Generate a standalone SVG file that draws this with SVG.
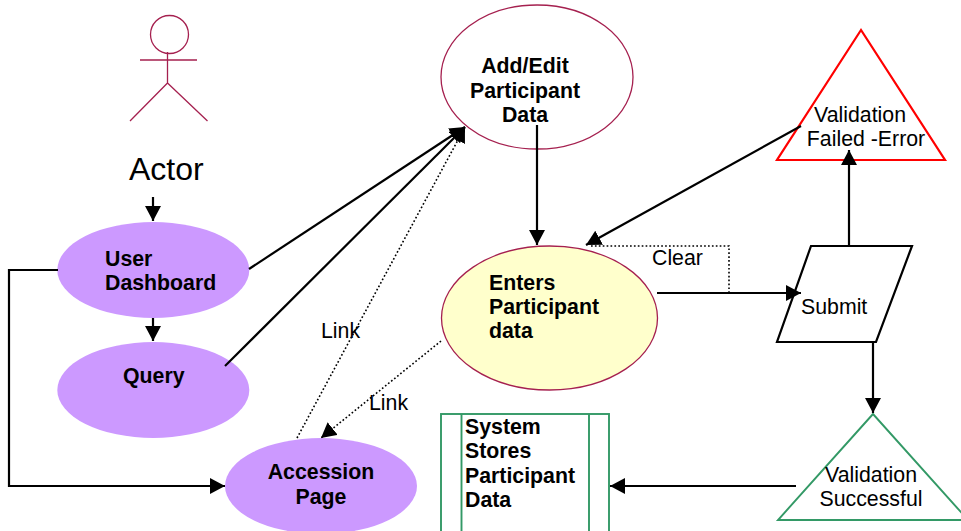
<svg xmlns="http://www.w3.org/2000/svg" width="961" height="531" viewBox="0 0 961 531">
<style>
text{font-family:"Liberation Sans",Arial,sans-serif;font-size:21.3px;fill:#000}
.b{font-weight:bold}
.p{fill:#cc99ff;stroke:none}
.m{fill:none;stroke:#a5204f;stroke-width:1.3}
.c{fill:none;stroke:#000;stroke-width:2.2}
.d{fill:none;stroke:#000;stroke-width:1.6;stroke-dasharray:1.7 2.2}
.g{fill:#fff;stroke:#339966;stroke-width:1.9}
</style>
<defs><marker id="a" markerUnits="userSpaceOnUse" markerWidth="16" markerHeight="16" refX="15" refY="8" orient="auto"><path d="M0 0L15 8L0 16Z" fill="#000"/></marker></defs>
<g id="actor"><circle class="m" cx="169.500" cy="34.500" r="19"/><path class="m" d="M140 60H197M167.500 52V83M167.500 83L130 121M167.500 83L207.500 121"/><text x="129" y="180" style="font-size:32px">Actor</text></g>
<g id="user-dashboard"><ellipse class="p" cx="153.300" cy="270" rx="96" ry="48"/><text class="b" x="105" y="266">User</text><text class="b" x="105" y="290">Dashboard</text></g>
<g id="query"><ellipse class="p" cx="153.300" cy="390" rx="96" ry="48"/><text class="b" x="123" y="383">Query</text></g>
<g id="accession-page"><ellipse class="p" cx="321" cy="486" rx="96" ry="48"/><text class="b" x="321" y="479" text-anchor="middle">Accession</text><text class="b" x="321" y="504" text-anchor="middle">Page</text></g>
<g id="add-edit"><ellipse class="m" cx="537" cy="77" rx="96" ry="72" fill="#fff"/><text class="b" x="525" y="73" text-anchor="middle">Add/Edit</text><text class="b" x="525" y="98" text-anchor="middle">Participant</text><text class="b" x="525" y="122" text-anchor="middle">Data</text></g>
<g id="enters"><ellipse class="m" cx="549.500" cy="318" rx="108" ry="72" style="fill:#ffffcc"/><text class="b" x="489" y="290">Enters</text><text class="b" x="489" y="314">Participant</text><text class="b" x="489" y="338">data</text></g>
<g id="failed"><path d="M861 30L777 160H945Z" fill="#fff" stroke="#f00" stroke-width="2.2"/><text x="860" y="122" text-anchor="middle">Validation</text><text x="866" y="146" text-anchor="middle">Failed -Error</text></g>
<g id="submit"><path d="M811 246H912L876 342H777Z" fill="#fff" stroke="#000" stroke-width="2.2"/><text x="801" y="314">Submit</text></g>
<g id="successful"><path d="M873 414L778 520H968Z" class="g"/><text x="871" y="482" text-anchor="middle">Validation</text><text x="871" y="506" text-anchor="middle">Successful</text></g>
<g id="store"><rect class="g" x="441" y="414" width="168" height="130"/><path class="g" d="M461.500 414V544M589 414V544" style="fill:none"/><text class="b" x="465" y="434">System</text><text class="b" x="465" y="458">Stores</text><text class="b" x="465" y="483">Participant</text><text class="b" x="465" y="507">Data</text></g>
<g id="connectors">
<path class="c" marker-end="url(#a)" d="M153 197V221"/>
<path class="c" marker-end="url(#a)" d="M153 318V341"/>
<path class="c" marker-end="url(#a)" d="M58 270H9V486H225"/>
<path class="c" marker-end="url(#a)" d="M249 269L465 127"/>
<path class="c" marker-end="url(#a)" d="M225 366L465 127"/>
<path class="d" marker-end="url(#a)" d="M297 438L465 127"/>
<path class="d" marker-end="url(#a)" d="M441 341L321 438"/>
<path class="c" marker-end="url(#a)" d="M537 125V245"/>
<path class="c" marker-end="url(#a)" d="M801 126L586 245"/>
<path class="d" d="M729 293V246H590"/>
<path class="c" marker-end="url(#a)" d="M657 293H801"/>
<path class="c" marker-end="url(#a)" d="M849 246V150"/>
<path class="c" marker-end="url(#a)" d="M873 342V413"/>
<path class="c" marker-end="url(#a)" d="M796 486H610"/>
</g>
<text x="321" y="338">Link</text>
<text x="369" y="410">Link</text>
<text x="652" y="265">Clear</text>
</svg>
